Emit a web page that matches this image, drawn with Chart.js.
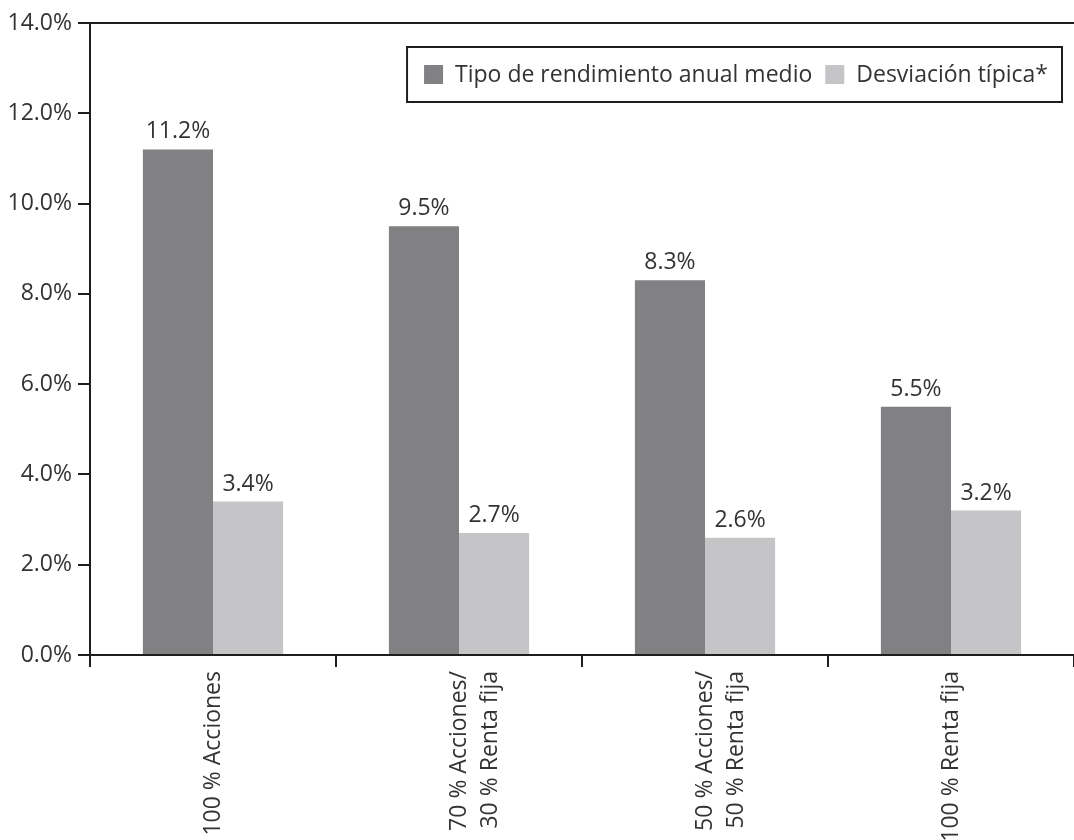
<!DOCTYPE html>
<html>
<head>
<meta charset="utf-8">
<script src="https://cdn.jsdelivr.net/npm/chart.js@4/dist/chart.umd.min.js"></script>
<style>
  html, body { margin: 0; padding: 0; background: #fff; }
  #wrap { width: 1074px; height: 840px; }
</style>
</head>
<body>
<div id="wrap"><canvas id="chartCanvas"></canvas></div>
<script>
// Categorías y series
const categorias = [
    '100 % Acciones',
    ['70 % Acciones/', '30 % Renta fija'],
    ['50 % Acciones/', '50 % Renta fija'],
    '100 % Renta fija'
];
const rendimientoMedio = [11.2, 9.5, 8.3, 5.5];
const desviacionTipica = [3.4, 2.7, 2.6, 3.2];
const nombresSeries = ['Tipo de rendimiento anual medio', 'Desviación típica*'];

const FUENTE = '"Open Sans", "DejaVu Sans", sans-serif';
const TAM = 23;
const TEXTO = '#333333';
const LINEA = '#1e1e1e';

// Etiquetas de valor sobre cada barra
const etiquetasValor = {
    id: 'etiquetasValor',
    afterDatasetsDraw(chart) {
        const ctx = chart.ctx;
        ctx.save();
        ctx.font = TAM + 'px ' + FUENTE;
        ctx.fillStyle = TEXTO;
        ctx.textAlign = 'center';
        ctx.textBaseline = 'alphabetic';
        chart.data.datasets.forEach((ds, i) => {
            chart.getDatasetMeta(i).data.forEach((bar, j) => {
                ctx.fillText(ds.data[j].toFixed(1) + '%', bar.x, bar.y - 11);
            });
        });
        ctx.restore();
    }
};

// Línea superior del marco y leyenda con recuadro
const marcoYLeyenda = {
    id: 'marcoYLeyenda',
    afterDraw(chart) {
        const ctx = chart.ctx;
        const area = chart.chartArea;
        ctx.save();
        ctx.strokeStyle = LINEA;
        ctx.lineWidth = 2;
        ctx.beginPath();
        ctx.moveTo(area.left - 12, area.top);
        ctx.lineTo(chart.width, area.top);
        ctx.stroke();

        ctx.font = TAM + 'px ' + FUENTE;
        const sw = 19, gapSw = 12, gapItem = 13, padIzq = 17, padDer = 14;
        const anchos = chart.data.datasets.map(ds => ctx.measureText(ds.label).width);
        let ancho = padIzq + padDer + gapItem * (anchos.length - 1);
        anchos.forEach(w => { ancho += sw + gapSw + w; });
        const alto = 55;
        const x0 = area.right - 12 - ancho;
        const y0 = area.top + 24;
        ctx.fillStyle = '#fff';
        ctx.fillRect(x0, y0, ancho, alto);
        ctx.strokeRect(x0, y0, ancho, alto);

        let x = x0 + padIzq;
        const yc = y0 + alto / 2;
        ctx.textBaseline = 'middle';
        ctx.textAlign = 'left';
        chart.data.datasets.forEach((ds, i) => {
            ctx.fillStyle = ds.backgroundColor;
            ctx.fillRect(x, yc - sw / 2, sw, sw);
            x += sw + gapSw;
            ctx.fillStyle = TEXTO;
            ctx.fillText(ds.label, x, yc + 1);
            x += anchos[i] + gapItem;
        });
        ctx.restore();
    }
};

const ctx = document.getElementById('chartCanvas').getContext('2d');
const grafico = new Chart(ctx, {
    type: 'bar',
    data: {
        labels: categorias,
        datasets: [{
            label: nombresSeries[0],
            data: rendimientoMedio,
            backgroundColor: '#818183'
        }, {
            label: nombresSeries[1],
            data: desviacionTipica,
            backgroundColor: '#c5c5c7'
        }]
    },
    options: {
        responsive: true,
        maintainAspectRatio: false,
        animation: false,
        layout: { padding: { top: 23, right: 0, left: 0, bottom: 0 } },
        datasets: {
            bar: { categoryPercentage: 0.57, barPercentage: 1.0 }
        },
        plugins: {
            legend: { display: false },
            tooltip: { enabled: false }
        },
        scales: {
            x: {
                grid: {
                    offset: true,
                    drawOnChartArea: false,
                    drawTicks: true,
                    tickLength: 12,
                    color: LINEA,
                    lineWidth: 2
                },
                border: { color: LINEA, width: 2 },
                ticks: {
                    minRotation: 90,
                    maxRotation: 90,
                    padding: 4,
                    color: TEXTO,
                    font: { family: FUENTE, size: TAM, lineHeight: 1.35 }
                },
                afterFit(scale) { scale.height = 185; }
            },
            y: {
                min: 0,
                max: 14,
                ticks: {
                    stepSize: 2,
                    padding: 6,
                    color: TEXTO,
                    font: { family: FUENTE, size: TAM },
                    callback: v => v.toFixed(1) + '%'
                },
                grid: {
                    drawOnChartArea: false,
                    drawTicks: true,
                    tickLength: 12,
                    color: LINEA,
                    lineWidth: 2
                },
                border: { color: LINEA, width: 2 },
                afterFit(scale) { scale.width = 90; }
            }
        }
    },
    plugins: [etiquetasValor, marcoYLeyenda]
});
</script>
</body>
</html>
